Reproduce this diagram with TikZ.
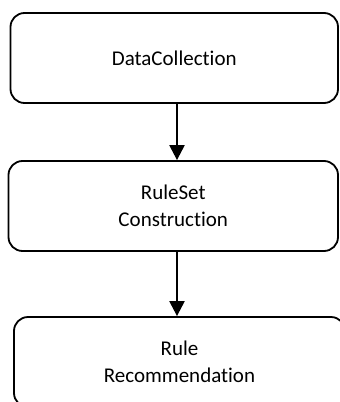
\documentclass[tikz,border=0pt]{standalone}
\usepackage{fontspec}
\setmainfont{Carlito}[Ligatures={NoCommon}]
\usetikzlibrary{arrows.meta}
\begin{document}
\begin{tikzpicture}[x=1pt,y=-1pt,
  box/.style={draw,line width=1.8pt,rounded corners=14pt,minimum height=90pt,
    align=center,inner sep=0pt,font=\fontsize{21}{26.5}\selectfont},
  arr/.style={line width=2.2pt,-{Triangle[length=15pt,width=15pt]}}]
\useasboundingbox (0,0) rectangle (340,402);
\clip (0,0) rectangle (340,402);
\node[box,minimum width=327.5pt] (b1) at (174.25,58) {DataCollection};
\node[box,minimum width=329.5pt] (b2) at (173.25,206) {RuleSet\\Construction};
\node[box,minimum width=331pt] (b3) at (179.5,362) {Rule\\Recommendation};
\coordinate (ax) at (177,0);
\draw[arr] (b1.south -| ax) -- (b2.north -| ax);
\draw[arr] (b2.south -| ax) -- (b3.north -| ax);
\end{tikzpicture}
\end{document}
